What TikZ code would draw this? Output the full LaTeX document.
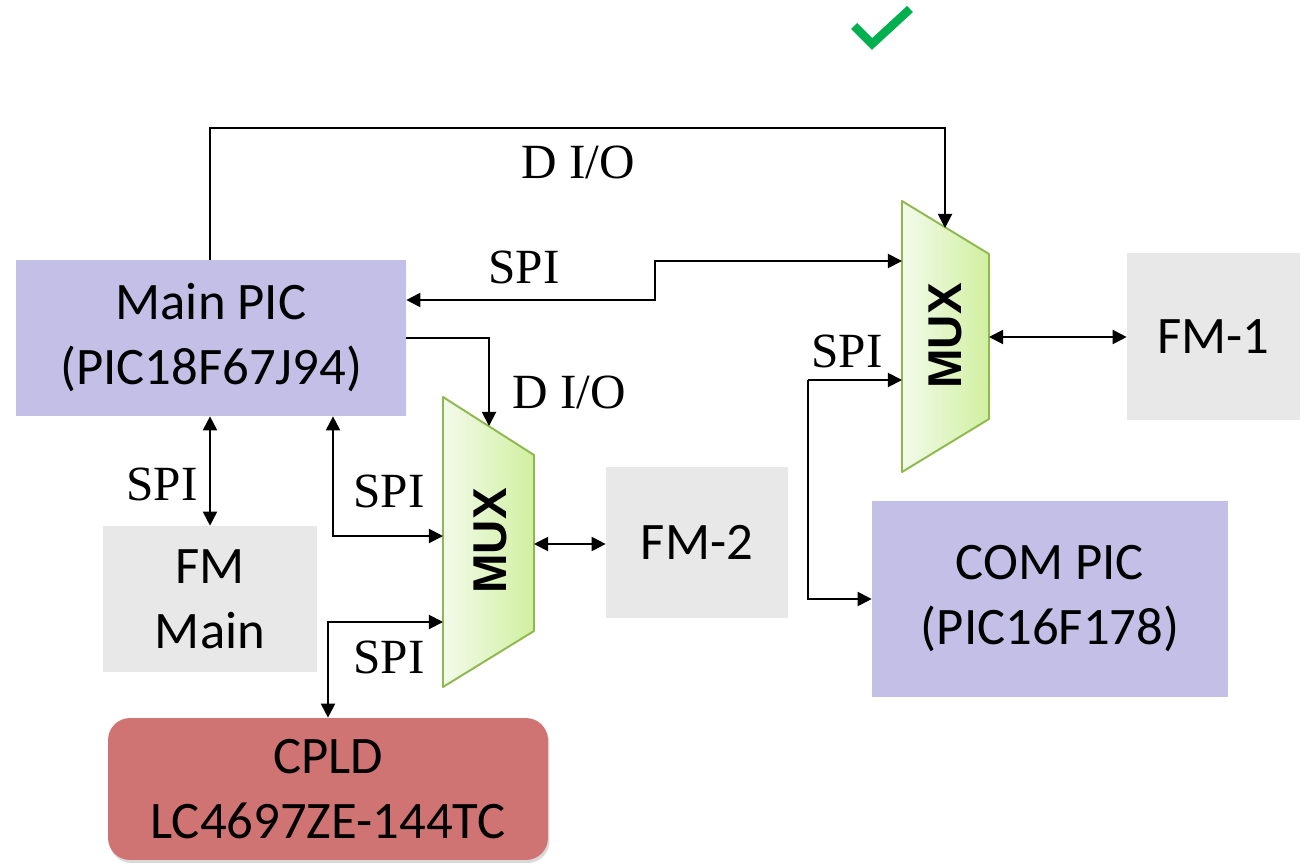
\documentclass[tikz,border=0pt]{standalone}
\usepackage{fontspec}
\setmainfont{Liberation Serif}
\newfontfamily\boxfont{Carlito}
\newfontfamily\muxfont{Liberation Sans}
\usetikzlibrary{arrows.meta,shadows}
\definecolor{lav}{HTML}{C4BFE6}
\definecolor{fmgray}{HTML}{E8E8E8}
\definecolor{cpldred}{HTML}{CF7472}
\definecolor{muxl}{HTML}{F3FAEB}
\definecolor{muxr}{HTML}{D0F0A0}
\definecolor{muxb}{HTML}{8FB84E}
\definecolor{okgreen}{HTML}{00B050}
\tikzset{
  blk/.style={rectangle, inner sep=0pt, align=center, font=\boxfont\fontsize{30}{37}\selectfont},
  lbl/.style={inner sep=0pt, anchor=base, font=\fontsize{28}{34}\selectfont},
  muxtxt/.style={rotate=90, inner sep=0pt, font=\muxfont\bfseries\fontsize{27}{32}\selectfont},
  muxshape/.style={left color=muxl, right color=muxr, draw=muxb, line width=1.1pt, line join=round},
  wire/.style={line width=1.1pt},
  arr/.style={wire, arrows={-Triangle[length=8pt,width=8pt]}},
  biarr/.style={wire, arrows={Triangle[length=8pt,width=8pt]-Triangle[length=8pt,width=8pt]}}
}
\begin{document}
\begin{tikzpicture}[x=0.02cm,y=-0.02cm]
\useasboundingbox (0,0) rectangle (1307,865);

% check mark
\draw[okgreen, line width=0.17cm] (854,26) -- (872,44) -- (910,9);

% boxes
\node[blk, fill=lav, minimum width=7.8cm, minimum height=3.12cm] (main) at (211,338) {Main PIC\\(PIC18F67J94)};
\node[blk, fill=fmgray, minimum width=4.28cm, minimum height=2.92cm] (fmmain) at (210,599) {FM\\Main};
\node[blk, fill=fmgray, minimum width=3.64cm, minimum height=3.02cm] (fm2) at (697,542.5) {FM-2};
\node[blk, fill=fmgray, minimum width=3.46cm, minimum height=3.34cm] (fm1) at (1213.5,336.5) {FM-1};
\node[blk, fill=lav, minimum width=7.12cm, minimum height=3.92cm] (com) at (1050,599) {COM PIC\\(PIC16F178)};
\node[blk, fill=cpldred, rounded corners=0.44cm, minimum width=8.8cm, minimum height=2.84cm,
      drop shadow={shadow xshift=0.03cm, shadow yshift=-0.06cm, opacity=0.3}] (cpld) at (328,789) {CPLD\\LC4697ZE-144TC};

% MUX 1 (right)
\shade[muxshape] (902,201) -- (989,254) -- (989,419) -- (902,472) -- cycle;
\node[muxtxt] (mux1) at (945,336) {MUX};
\coordinate (m1top) at (945,228);
\coordinate (m1a) at (902,261);
\coordinate (m1b) at (902,380);
\coordinate (m1r) at (989,337);

% MUX 2 (left)
\shade[muxshape] (443,397) -- (534,455) -- (534,631) -- (443,687) -- cycle;
\node[muxtxt] (mux2) at (490,541) {MUX};
\coordinate (m2top) at (489,426);
\coordinate (m2a) at (443,536);
\coordinate (m2b) at (443,622);
\coordinate (m2r) at (534,544);

% connectors
\coordinate (dioc) at (210,128);
\draw[arr] (main.north -| dioc) -- (dioc) -| (m1top);
\node[lbl] (l1) at (578,178) {D I/O};

\coordinate (spij) at (655,300);
\draw[biarr] (m1a) -| (spij) -- (main.east |- spij);
\node[lbl] (l2) at (524,283) {SPI};

\coordinate (dio2) at (489,338);
\draw[arr] (main.east |- dio2) -- (dio2) -- (m2top);
\node[lbl] (l3) at (569,408) {D I/O};

\draw[biarr] (main.south -| fmmain.north) -- (fmmain.north);
\node[lbl] (l4) at (162,500) {SPI};

\coordinate (spi5) at (333,536);
\draw[biarr] (main.south -| spi5) -- (spi5) -- (m2a);
\node[lbl] (l5) at (389,507) {SPI};

\draw[biarr] (m2r) -- (fm2.west |- m2r);

\coordinate (spi7) at (328,622);
\draw[biarr] (cpld.north -| spi7) -- (spi7) -- (m2b);
\node[lbl] (l7) at (389,673) {SPI};

\draw[biarr] (m1r) -- (fm1.west |- m1r);

\coordinate (spi9a) at (808,380);
\coordinate (spi9b) at (808,599);
\draw[arr] (spi9a) -- (m1b);
\draw[arr] (spi9a) -- (spi9b) -- (com.west |- spi9b);
\node[lbl] (l9) at (847,367) {SPI};
\end{tikzpicture}
\end{document}
